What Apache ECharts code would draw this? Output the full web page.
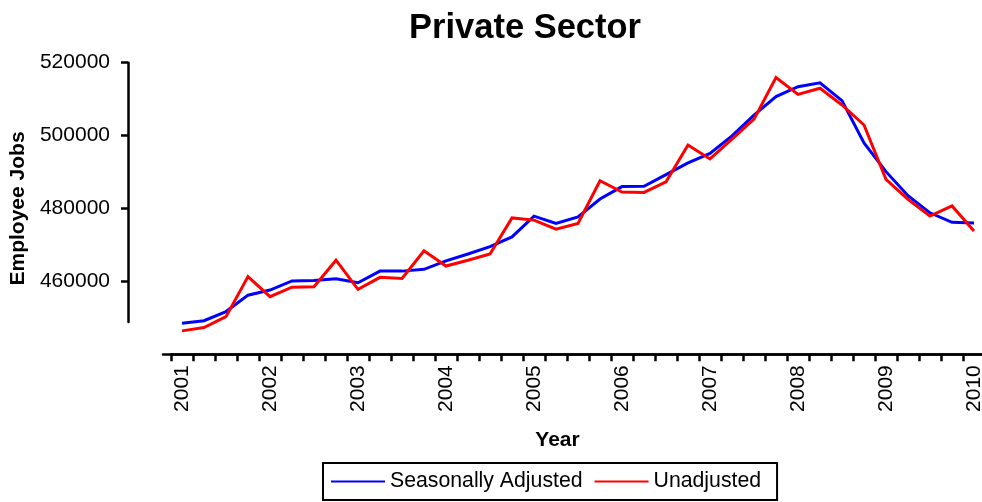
<!DOCTYPE html>
<html>
<head>
<meta charset="utf-8">
<script src="https://cdn.jsdelivr.net/npm/echarts@6/dist/echarts.min.js"></script>
<style>
html,body{margin:0;padding:0;background:#fff;}
#chart{width:982px;height:502px;}
</style>
</head>
<body>
<div id="chart"></div>
<script>
var categories = [
  '2001 Q1','2001 Q2','2001 Q3','2001 Q4',
  '2002 Q1','2002 Q2','2002 Q3','2002 Q4',
  '2003 Q1','2003 Q2','2003 Q3','2003 Q4',
  '2004 Q1','2004 Q2','2004 Q3','2004 Q4',
  '2005 Q1','2005 Q2','2005 Q3','2005 Q4',
  '2006 Q1','2006 Q2','2006 Q3','2006 Q4',
  '2007 Q1','2007 Q2','2007 Q3','2007 Q4',
  '2008 Q1','2008 Q2','2008 Q3','2008 Q4',
  '2009 Q1','2009 Q2','2009 Q3','2009 Q4',
  '2010 Q1'
];
var seasonallyAdjusted = [
  448500, 449200, 451700, 456200,
  457600, 460100, 460200, 460700,
  459600, 462800, 462800, 463300,
  465600, 467500, 469500, 472200,
  477900, 475900, 477700, 482600,
  486000, 486100, 489300, 492500,
  495100, 499900, 505600, 510700,
  513400, 514500, 509600, 498000,
  490100, 483500, 478800, 476200,
  476000
];
var unadjusted = [
  446400, 447300, 450300, 461300,
  455800, 458400, 458500, 465800,
  457800, 461100, 460800, 468400,
  464200, 465800, 467500, 477400,
  476800, 474300, 475900, 487600,
  484500, 484400, 487300, 497400,
  493600, 499000, 504500, 515900,
  511300, 513000, 508400, 502900,
  488000, 482500, 477900, 480700,
  473800
];
var yTickValues = [460000, 480000, 500000, 520000];
var seriesNames = ['Seasonally Adjusted', 'Unadjusted'];

var FONT = '"Liberation Sans", Arial, Helvetica, sans-serif';
var AXW = 2.5;
var chart = echarts.init(document.getElementById('chart'), null, {renderer: 'canvas'});
chart.setOption({
  animation: false,
  backgroundColor: '#ffffff',
  textStyle: {fontFamily: FONT, color: '#000'},
  title: {
    text: 'Private Sector',
    left: 409,
    top: 11,
    padding: 0,
    textStyle: {fontFamily: FONT, fontSize: 34.5, fontWeight: 'bold', color: '#000'}
  },
  legend: {
    data: seriesNames,
    left: 323,
    top: 463,
    padding: [8, 16, 8, 8],
    borderColor: '#000',
    borderWidth: 2,
    icon: 'rect',
    itemWidth: 54,
    itemHeight: 2,
    itemGap: 12,
    textStyle: {fontFamily: FONT, fontSize: 21.25, color: '#000'}
  },
  grid: [
    {left: 171, right: -3, top: 62.7, height: 291.5, outerBoundsMode: 'none', containLabel: false},
    {left: 128, width: 10, top: 62.7, height: 259.3, outerBoundsMode: 'none', containLabel: false},
    {left: 163, right: 0, top: 62.7, height: 291.5, outerBoundsMode: 'none', containLabel: false}
  ],
  xAxis: [
    {
      gridIndex: 0,
      type: 'category',
      data: categories,
      boundaryGap: true,
      axisLine: {show: true, lineStyle: {color: '#000', width: AXW}},
      axisTick: {show: true, interval: 0, length: 7, lineStyle: {color: '#000', width: AXW}},
      axisLabel: {
        interval: 3,
        rotate: 90,
        margin: 11,
        fontSize: 21,
        color: '#000',
        fontFamily: FONT,
        formatter: function (v) { return v.slice(0, 4); }
      },
      splitLine: {show: false}
    },
    {gridIndex: 1, type: 'value', show: false},
    {
      gridIndex: 2,
      type: 'value',
      min: 0, max: 1,
      axisLine: {show: true, lineStyle: {color: '#000', width: AXW}},
      axisTick: {show: false},
      axisLabel: {show: false},
      splitLine: {show: false},
      name: 'Year',
      nameLocation: 'middle',
      nameGap: 76,
      nameTextStyle: {fontFamily: FONT, fontSize: 21, fontWeight: 'bold', color: '#000', padding: [0, 30, 0, 0]}
    }
  ],
  yAxis: [
    {
      gridIndex: 0,
      type: 'value',
      min: 440000,
      max: 520000,
      interval: 20000,
      offset: 43,
      axisLine: {show: false},
      axisTick: {show: true, customValues: yTickValues, length: 7, lineStyle: {color: '#000', width: AXW}},
      axisLabel: {
        customValues: yTickValues, margin: 18, fontSize: 21, color: '#000', fontFamily: FONT,
        formatter: function (v) { return String(v); }
      },
      splitLine: {show: false},
      name: 'Employee Jobs',
      nameLocation: 'middle',
      nameGap: 91,
      nameTextStyle: {fontFamily: FONT, fontSize: 21, fontWeight: 'bold', color: '#000'}
    },
    {
      gridIndex: 1,
      type: 'value',
      min: 0, max: 1,
      axisLine: {show: true, lineStyle: {color: '#000', width: AXW}},
      axisTick: {show: false},
      axisLabel: {show: false},
      splitLine: {show: false}
    },
    {gridIndex: 2, type: 'value', show: false}
  ],
  series: [
    {
      name: seriesNames[0],
      type: 'line',
      xAxisIndex: 0, yAxisIndex: 0,
      data: seasonallyAdjusted,
      symbol: 'none',
      color: '#0000ff',
      lineStyle: {color: '#0000ff', width: 3, join: 'miter'},
      emphasis: {disabled: true}
    },
    {
      name: seriesNames[1],
      type: 'line',
      xAxisIndex: 0, yAxisIndex: 0,
      data: unadjusted,
      symbol: 'none',
      color: '#ff0000',
      lineStyle: {color: '#ff0000', width: 3, join: 'miter'},
      emphasis: {disabled: true}
    }
  ]
});
</script>
</body>
</html>
